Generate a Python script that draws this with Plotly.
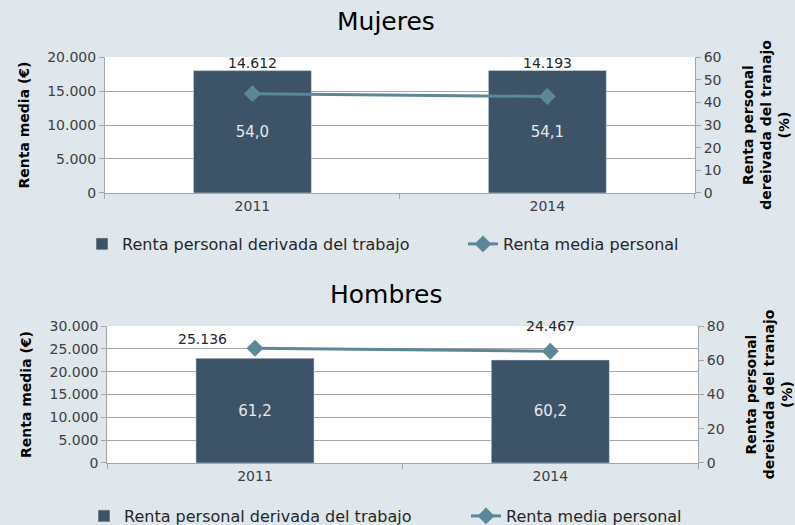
import plotly.graph_objects as go

years = ["2011", "2014"]
muj_renta_trabajo = [54.0, 54.1]      # % (barras, eje derecho)
muj_renta_media = [14612, 14193]      # € (linea, eje izquierdo)
hom_renta_trabajo = [61.2, 60.2]
hom_renta_media = [25136, 24467]

bar_color = "#3d5468"
line_color = "#5c8799"
grid_color = "#a6a6a6"
txt_color = "#404040"
font = "DejaVu Sans"


def fmt(v):
    return f"{v:,}".replace(",", ".")


fig = go.Figure()

# Mujeres
fig.add_trace(go.Bar(x=years, y=muj_renta_trabajo, xaxis="x", yaxis="y",
                     name="Renta personal derivada del trabajo", marker_color=bar_color,
                     texttemplate="%{y:.1f}", textposition="inside", insidetextanchor="middle",
                     textfont=dict(color="#e8e8e8", size=15), legend="legend"))
fig.add_trace(go.Scatter(x=years, y=muj_renta_media, xaxis="x", yaxis="y2",
                         name="Renta media personal", mode="lines+markers",
                         line=dict(color=line_color, width=3),
                         marker=dict(symbol="diamond", size=13, color=line_color),
                         legend="legend2"))

# Hombres
fig.add_trace(go.Bar(x=years, y=hom_renta_trabajo, xaxis="x2", yaxis="y3",
                     name="Renta personal derivada del trabajo", marker_color=bar_color,
                     texttemplate="%{y:.1f}", textposition="inside", insidetextanchor="middle",
                     textfont=dict(color="#e8e8e8", size=15), legend="legend3"))
fig.add_trace(go.Scatter(x=years, y=hom_renta_media, xaxis="x2", yaxis="y4",
                         name="Renta media personal", mode="lines+markers",
                         line=dict(color=line_color, width=3),
                         marker=dict(symbol="diamond", size=13, color=line_color),
                         legend="legend4"))

xax = dict(type="category", range=[-0.5, 1.5], showline=True, linecolor=grid_color,
           ticks="outside", tickson="boundaries", ticklen=5, tickcolor=grid_color,
           tickfont=dict(size=14, color=txt_color), showgrid=False, tickangle=0,
           automargin=False)
left_ax = dict(side="left", showline=True, linecolor=grid_color, ticks="outside",
               ticklen=5, tickcolor=grid_color, tickformat=",d", showgrid=True,
               gridcolor=grid_color, gridwidth=1.3, zeroline=False, automargin=False,
               tickfont=dict(size=14, color=txt_color),
               title=dict(text="<b>Renta media (€)</b>", font=dict(size=14, color="#000"),
                          standoff=14))
right_ax = dict(side="right", showline=True, linecolor=grid_color, ticks="outside",
                ticklen=5, tickcolor=grid_color, showgrid=False, zeroline=False,
                automargin=False, tickfont=dict(size=14, color=txt_color),
                title=dict(text="<b>Renta personal<br>dereivada del tranajo<br>(%)</b>",
                           font=dict(size=14, color="#000"), standoff=22))

leg = dict(orientation="h", xanchor="left", bgcolor="rgba(0,0,0,0)",
           font=dict(size=16, color="#262626"))

fig.update_layout(
    width=795, height=525, autosize=False,
    margin=dict(l=0, r=0, t=0, b=0, autoexpand=False),
    paper_bgcolor="#dfe6ec", plot_bgcolor="white",
    font=dict(family=font, color=txt_color),
    separators=",.",
    bargap=0.6,
    xaxis=dict(xax, domain=[0.132, 0.874], anchor="y"),
    yaxis=dict(right_ax, domain=[0.6324, 0.8914], anchor="x", range=[0, 60], dtick=10),
    yaxis2=dict(left_ax, overlaying="y", anchor="x", range=[0, 20000], dtick=5000),
    xaxis2=dict(xax, domain=[0.135, 0.878], anchor="y3"),
    yaxis3=dict(right_ax, domain=[0.1181, 0.379], anchor="x2", range=[0, 80], dtick=20),
    yaxis4=dict(left_ax, overlaying="y3", anchor="x2", range=[0, 30000], dtick=5000),
    legend=dict(leg, x=82 / 795, y=1 - 244 / 525, yanchor="middle"),
    legend2=dict(leg, x=463 / 795, y=1 - 244 / 525, yanchor="middle"),
    legend3=dict(leg, x=84 / 795, y=1 - 516 / 525, yanchor="middle"),
    legend4=dict(leg, x=466 / 795, y=1 - 516 / 525, yanchor="middle"),
    showlegend=True,
)

# titulos
fig.add_annotation(text="Mujeres", xref="paper", yref="paper", x=0.486, y=1 - 22 / 525,
                   yanchor="middle", showarrow=False, font=dict(size=25, color="#000"))
fig.add_annotation(text="Hombres", xref="paper", yref="paper", x=0.486, y=1 - 294 / 525,
                   yanchor="middle", showarrow=False, font=dict(size=25, color="#000"))

# etiquetas de la linea
for i, v in enumerate(muj_renta_media):
    fig.add_annotation(x=i, y=1, xref="x", yref="y2 domain", text=fmt(v),
                       showarrow=False, yshift=4, font=dict(size=14, color="#262626"))
offsets = [(-52, 9), (0, 25)]
for i, (v, (dx, dy)) in enumerate(zip(hom_renta_media, offsets)):
    fig.add_annotation(x=i, y=v, xref="x2", yref="y4", text=fmt(v),
                       showarrow=False, xshift=dx, yshift=dy, font=dict(size=14, color="#262626"))

fig.write_html(
    "out.html",
    config={"displayModeBar": False},
    post_script="var s=document.createElement('style');"
                "s.textContent='html,body{margin:0;padding:0;overflow:hidden;}';"
                "document.head.appendChild(s);",
)
